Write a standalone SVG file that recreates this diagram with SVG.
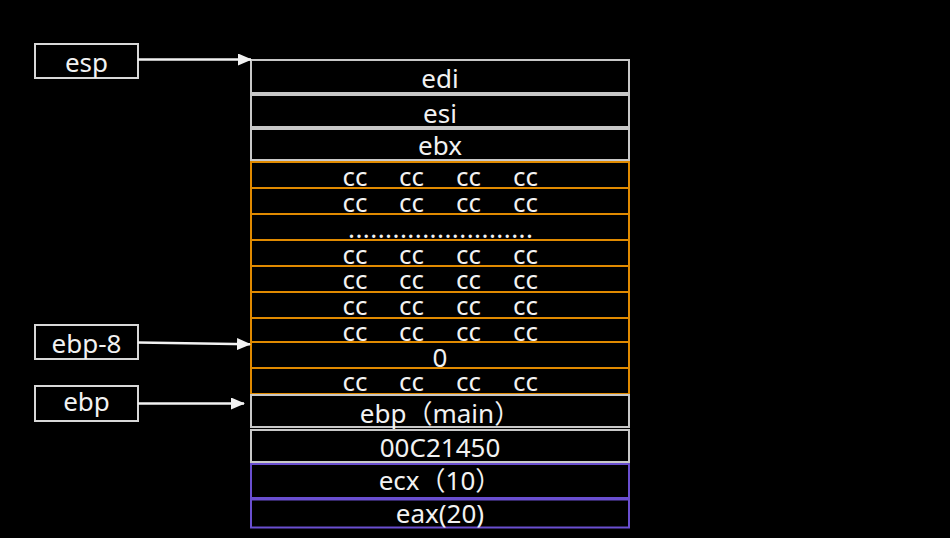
<svg xmlns="http://www.w3.org/2000/svg" width="950" height="538" viewBox="0 0 950 538">
  <defs>
    <style>
      .t { font-family: "Noto Sans", "Noto Sans CJK SC", sans-serif; font-size: 26px; fill: #f2f2f2; text-anchor: middle; }
      .g { fill: #000; stroke: #c8c8c8; stroke-width: 2; }
      .o { fill: #000; stroke: #e08a00; stroke-width: 2; }
      .p { fill: #000; stroke: #6a4fd0; stroke-width: 2; }
      .lbl { fill: #000; stroke: #d8d8d8; stroke-width: 2; }
      .arr { stroke: #f2f2f2; stroke-width: 2.5; fill: none; }
    </style>
    <marker id="ah" markerWidth="14" markerHeight="12" refX="13" refY="6" orient="auto" markerUnits="userSpaceOnUse">
      <path d="M0,0 L14,6 L0,12 Z" fill="#f2f2f2"/>
    </marker>
  </defs>
  <rect width="950" height="538" fill="#000"/>

  <g id="stack">
    <g id="row-edi"><rect class="g" x="251" y="60" width="378" height="33"/><text class="t" x="440" y="88">edi</text></g>
    <g id="row-esi"><rect class="g" x="251" y="95" width="378" height="32"/><text class="t" x="440" y="123">esi</text></g>
    <g id="row-ebx"><rect class="g" x="251" y="129" width="378" height="31"/><text class="t" x="440" y="155">ebx</text></g>

    <g id="row-cc1"><rect class="o" x="251" y="162" width="378" height="26"/>
      <text class="t" x="355" y="186">cc</text><text class="t" x="411.5" y="186">cc</text><text class="t" x="468.5" y="186">cc</text><text class="t" x="525.5" y="186">cc</text></g>
    <g id="row-cc2"><rect class="o" x="251" y="188" width="378" height="26"/>
      <text class="t" x="355" y="211.5">cc</text><text class="t" x="411.5" y="211.5">cc</text><text class="t" x="468.5" y="211.5">cc</text><text class="t" x="525.5" y="211.5">cc</text></g>
    <g id="row-dots"><rect class="o" x="251" y="214" width="378" height="26"/>
      <text class="t" x="440.5" y="238" textLength="185" lengthAdjust="spacing">.........................</text></g>
    <g id="row-cc4"><rect class="o" x="251" y="240" width="378" height="26"/>
      <text class="t" x="355" y="263.5">cc</text><text class="t" x="411.5" y="263.5">cc</text><text class="t" x="468.5" y="263.5">cc</text><text class="t" x="525.5" y="263.5">cc</text></g>
    <g id="row-cc5"><rect class="o" x="251" y="266" width="378" height="26"/>
      <text class="t" x="355" y="289">cc</text><text class="t" x="411.5" y="289">cc</text><text class="t" x="468.5" y="289">cc</text><text class="t" x="525.5" y="289">cc</text></g>
    <g id="row-cc6"><rect class="o" x="251" y="292" width="378" height="26"/>
      <text class="t" x="355" y="315">cc</text><text class="t" x="411.5" y="315">cc</text><text class="t" x="468.5" y="315">cc</text><text class="t" x="525.5" y="315">cc</text></g>
    <g id="row-cc7"><rect class="o" x="251" y="318" width="378" height="24"/>
      <text class="t" x="355" y="341">cc</text><text class="t" x="411.5" y="341">cc</text><text class="t" x="468.5" y="341">cc</text><text class="t" x="525.5" y="341">cc</text></g>
    <g id="row-zero"><rect class="o" x="251" y="342" width="378" height="26"/>
      <text class="t" x="440" y="367">0</text></g>
    <g id="row-cc9"><rect class="o" x="251" y="368" width="378" height="26"/>
      <text class="t" x="355" y="391">cc</text><text class="t" x="411.5" y="391">cc</text><text class="t" x="468.5" y="391">cc</text><text class="t" x="525.5" y="391">cc</text></g>

    <g id="row-ebpmain"><rect class="g" x="251" y="395" width="378" height="32"/><text class="t" x="440" y="422.5">ebp（main）</text></g>
    <g id="row-ret"><rect class="g" x="251" y="430" width="378" height="32"/><text class="t" x="440" y="456.5">00C21450</text></g>
    <g id="row-ecx"><rect class="p" x="251" y="464" width="378" height="34"/><text class="t" x="440" y="490">ecx（10）</text></g>
    <g id="row-eax"><rect class="p" x="251" y="499.5" width="378" height="28"/><text class="t" x="440" y="523">eax(20)</text></g>
  </g>

  <g id="lbl-esp"><rect class="lbl" x="35" y="44" width="103" height="34"/><text class="t" x="86.5" y="71.5">esp</text></g>
  <g id="lbl-ebp8"><rect class="lbl" x="35" y="325" width="103" height="34"/><text class="t" x="86.5" y="352.5">ebp-8</text></g>
  <g id="lbl-ebp"><rect class="lbl" x="35" y="386" width="103" height="35"/><text class="t" x="86.5" y="411">ebp</text></g>

  <g id="connectors">
    <line class="arr" x1="138" y1="59.5" x2="251" y2="59.5" marker-end="url(#ah)"/>
    <line class="arr" x1="138" y1="342.5" x2="250" y2="344.3" marker-end="url(#ah)"/>
    <line class="arr" x1="138" y1="403.5" x2="244" y2="403.5" marker-end="url(#ah)"/>
  </g>
</svg>
